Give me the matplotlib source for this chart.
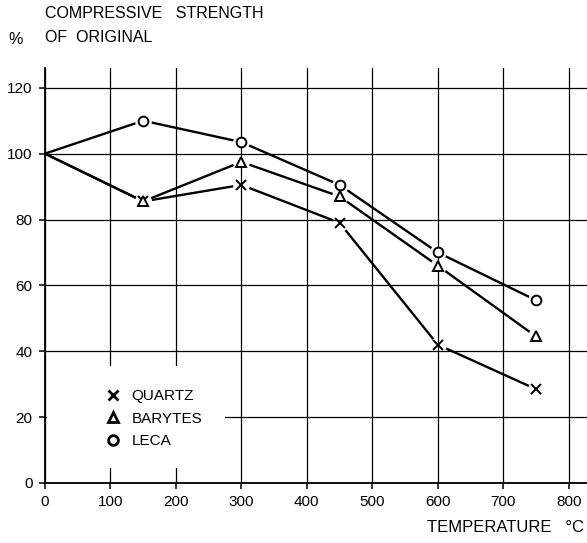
import matplotlib
matplotlib.use("Agg")
import matplotlib.pyplot as plt
from matplotlib.patches import Rectangle

plt.rcParams["font.family"] = ["Liberation Sans", "DejaVu Sans"]

# data
temps = [0, 150, 300, 450, 600, 750]
quartz = [100, 85.5, 90.5, 79, 42, 28.5]
barytes = [100, 85.5, 97.5, 87, 66, 44.5]
leca = [100, 110, 103.5, 90.5, 70, 55.5]

x_ticks = [0, 100, 200, 300, 400, 500, 600, 700, 800]
y_ticks = [0, 20, 40, 60, 80, 100, 120]

series = [
    ("QUARTZ", quartz, "x"),
    ("BARYTES", barytes, "^"),
    ("LECA", leca, "o"),
]

fig = plt.figure(figsize=(5.87, 5.43), dpi=100)
ax = fig.add_axes([45 / 587, 60 / 543, 542 / 587, 415 / 543])

for name, vals, mk in series:
    ax.plot(temps, vals, color="black", lw=1.7, zorder=1, solid_capstyle="butt")
    # white blobs so the line stops short of the marker
    ax.plot(temps[1:], vals[1:], ls="none", marker="o", ms=12,
            mfc="white", mec="none", zorder=1.5)

for name, vals, mk in series:
    ax.plot(temps[1:], vals[1:], ls="none", marker=mk, ms=7 if mk != "x" else 6.5,
            mfc="white", mec="black", mew=1.4, zorder=3, label=name)

ax.set_xlim(0, 828)
ax.set_ylim(0, 126)
ax.set_xticks(x_ticks)
ax.set_yticks(y_ticks)
ax.set_axisbelow(False)
ax.grid(True, color="black", lw=0.9)

for s in ["top", "right"]:
    ax.spines[s].set_visible(False)
for s in ["left", "bottom"]:
    ax.spines[s].set_linewidth(1.3)

ax.tick_params(direction="out", length=4, width=1.1, labelsize=11, pad=5)

# blank area behind legend
ax.add_patch(Rectangle((3, 4.5), 272, 31, facecolor="white", edgecolor="none", zorder=4))
leg = ax.legend(loc="center left", bbox_to_anchor=(83 / 828, 19.5 / 126), frameon=False,
                fontsize=11, handlelength=0.8, handletextpad=0.8, labelspacing=0.55,
                borderpad=0)
leg.set_zorder(5)
for h in leg.legend_handles:
    h.set_markeredgewidth(2)

fig.text(45 / 587, 1 - 14 / 543, "COMPRESSIVE   STRENGTH", fontsize=11.5, va="center", ha="left")
fig.text(45 / 587, 1 - 37 / 543, "OF  ORIGINAL", fontsize=11.5, va="center", ha="left")
fig.text(8 / 587, 1 - 39 / 543, "%", fontsize=11.5, va="center", ha="left")
fig.text(584 / 587, 1 - 527 / 543, "TEMPERATURE   °C", fontsize=12, va="center", ha="right")

fig.savefig("out.png", dpi=100)
